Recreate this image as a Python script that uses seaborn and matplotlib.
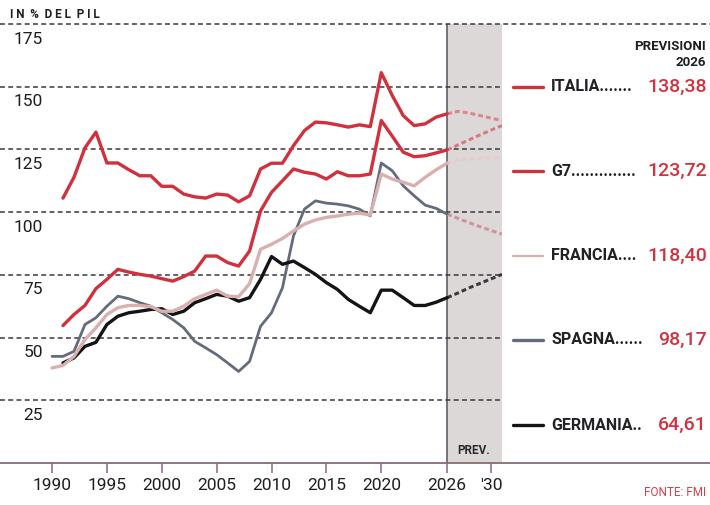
import matplotlib
matplotlib.use('Agg')
import matplotlib.pyplot as plt
import matplotlib.transforms as mtransforms
from matplotlib.lines import Line2D
import seaborn as sns
import pandas as pd
import numpy as np

# Debito pubblico in % del PIL (fonte FMI)
anni = list(range(1990, 2027))
italia = [np.nan, 105.6, 113.9, 125.6, 131.9, 119.6, 119.6, 116.9, 114.5, 114.5,
          110.3, 110.3, 107.2, 106.1, 105.6, 107.2, 106.8, 104.1, 106.5, 117.2,
          119.5, 119.5, 126.5, 132.5, 135.9, 135.6, 134.8, 133.9, 134.8, 134.1,
          155.6, 146.5, 138.5, 134.5, 135.2, 137.9, 139.2]
g7 = [np.nan, 54.8, 59.2, 62.8, 69.5, 73.2, 77.2, 76.1, 75.2, 74.5,
      73.5, 72.5, 74.3, 76.5, 82.5, 82.5, 79.9, 78.5, 84.5, 100.5,
      107.9, 112.5, 117.2, 115.9, 115.2, 113.2, 116.1, 114.5, 114.5, 115.2,
      136.5, 130.3, 123.9, 122.1, 122.5, 123.6, 124.8]
francia = [37.9, 38.9, 42.5, 49.2, 53.9, 59.2, 61.9, 62.8, 62.8, 62.3,
           60.5, 60.5, 62.5, 65.5, 67.2, 68.9, 66.5, 66.3, 71.5, 85.2,
           87.2, 89.5, 92.5, 95.2, 96.9, 97.9, 98.5, 99.2, 99.6, 98.8,
           115.2, 113.2, 111.9, 110.5, 113.9, 116.9, 119.5]
spagna = [42.5, 42.5, 44.5, 55.2, 57.9, 62.5, 66.5, 65.5, 63.9, 62.5,
          59.9, 57.2, 53.9, 48.5, 45.9, 43.2, 39.9, 36.5, 40.5, 54.5,
          59.9, 69.9, 90.5, 101.2, 104.5, 103.6, 103.2, 102.5, 101.2, 98.5,
          119.6, 116.5, 110.5, 106.5, 102.8, 101.5, 99.2]
germania = [np.nan, 39.9, 41.9, 46.5, 48.1, 55.2, 58.5, 59.9, 60.5, 61.2,
            61.5, 59.2, 60.5, 63.9, 65.5, 67.2, 66.5, 64.5, 65.9, 73.2,
            82.3, 79.2, 80.5, 77.9, 75.2, 71.9, 69.2, 65.2, 62.5, 59.9,
            68.9, 68.9, 65.9, 62.8, 62.8, 64.1, 65.9]

# Previsioni
anni_prev = [2026, 2027, 2028, 2029, 2030, 2031]
italia_prev = [139.2, 140.2, 139.5, 138.5, 137.5, 136.5]
g7_prev = [124.8, 126.8, 128.8, 130.8, 132.7, 134.5]
francia_prev = [119.5, 120.9, 121.2, 121.5, 121.7, 121.9]
spagna_prev = [99.2, 97.5, 95.8, 94.2, 92.7, 91.2]
germania_prev = [65.9, 67.8, 69.8, 71.6, 73.4, 75.2]

paesi = ['ITALIA', 'G7', 'FRANCIA', 'SPAGNA', 'GERMANIA']
etichette = ['ITALIA.......', 'G7..............', 'FRANCIA....', 'SPAGNA......', 'GERMANIA..']
valori_2026 = ['138,38', '123,72', '118,40', '98,17', '64,61']

x_ticks = [1990, 1995, 2000, 2005, 2010, 2015, 2020, 2026, 2030]
x_labels = ['1990', '1995', '2000', '2005', '2010', '2015', '2020', '2026', "'30"]
y_livelli = [25, 50, 75, 100, 125, 150, 175]

colori = {'ITALIA': '#d0313d', 'G7': '#d0313d', 'FRANCIA': '#d8b0ae',
          'SPAGNA': '#646c7c', 'GERMANIA': '#141414'}
colori_prev = {'ITALIA': '#d9878d', 'G7': '#d27c84', 'FRANCIA': '#e6cccb',
               'SPAGNA': '#cc949b', 'GERMANIA': '#3a3a3e'}
spessori = {'ITALIA': 2.4, 'G7': 2.4, 'FRANCIA': 2.4, 'SPAGNA': 2.0, 'GERMANIA': 2.4}

storico = pd.DataFrame({'anno': anni, 'ITALIA': italia, 'G7': g7, 'FRANCIA': francia,
                        'SPAGNA': spagna, 'GERMANIA': germania})
storico = storico.melt(id_vars='anno', var_name='paese', value_name='valore').dropna()
previsioni = pd.DataFrame({'anno': anni_prev, 'ITALIA': italia_prev, 'G7': g7_prev,
                           'FRANCIA': francia_prev, 'SPAGNA': spagna_prev,
                           'GERMANIA': germania_prev})
previsioni = previsioni.melt(id_vars='anno', var_name='paese', value_name='valore')

sns.set_theme(style='white')
plt.rcParams['font.family'] = ['Roboto', 'DejaVu Sans']

W, H = 710, 505
fig = plt.figure(figsize=(W / 100, H / 100), dpi=100)
ax = fig.add_axes([0, 42 / H, 502 / W, 439 / H])

# Fascia delle previsioni
ax.axvspan(2026, 2031, color='#ddd8d8', lw=0, zorder=0)
ax.axvline(2026, color='#6e6874', lw=1.3, zorder=1)

# Griglia tratteggiata
for v in y_livelli:
    xmax = W / 502 if v == 175 else 1
    ax.axhline(v, xmin=0, xmax=xmax, color='#38383e', lw=1.1,
               linestyle=(0, (3.2, 2.2)), clip_on=False, zorder=1)
ax.axhline(0, xmin=0, xmax=W / 502, color='#8a6a70', lw=1.3, clip_on=False, zorder=3)

ordine = ['SPAGNA', 'GERMANIA', 'FRANCIA', 'G7', 'ITALIA']
for p in ordine:
    sns.lineplot(data=previsioni[previsioni.paese == p], x='anno', y='valore',
                 color=colori_prev[p], lw=2.2, linestyle=(0, (1.6, 1.0)), ax=ax, zorder=2)
    sns.lineplot(data=storico[storico.paese == p], x='anno', y='valore',
                 color=colori[p], lw=spessori[p], ax=ax, zorder=2)

ax.set_xlim(1985.26, 2031)
ax.set_ylim(0, 175)
for s in ax.spines.values():
    s.set_visible(False)
ax.set_xlabel('')
ax.set_ylabel('')
ax.set_yticks([])
ax.set_xticks(x_ticks, x_labels)
ax.tick_params(axis='x', bottom=True, direction='out', length=7.5, width=1.1,
               color='#8a6a70', pad=3, labelsize=12.5, labelcolor='#1e1e22')

# Etichette asse y, sotto le linee di griglia
offset = mtransforms.ScaledTranslation(0, -0.15, fig.dpi_scale_trans)
for v in y_livelli:
    ax.text(43 / 502, v, str(v), transform=ax.get_yaxis_transform() + offset,
            ha='right', va='center', fontsize=12.5, color='#1e1e22')

def fx(px):
    return px / W

def fy(py):
    return 1 - py / H

fig.text(fx(10), fy(15), 'I N  %  D E L  P I L', fontsize=8.5, fontweight='bold',
         color='#1e1e22', va='center', ha='left')
fig.text(fx(706), fy(47), 'PREVISIONI', fontsize=9.5, fontweight='bold',
         color='#1e1e22', va='center', ha='right')
fig.text(fx(706), fy(62), '2026', fontsize=9.5, fontweight='bold',
         color='#1e1e22', va='center', ha='right')

# Legenda con valori 2026
legenda_y = [87, 171, 256, 340, 425]
for p, lab, val, yy in zip(paesi, etichette, valori_2026, legenda_y):
    lw_leg = 1.6 if p == 'FRANCIA' else 2.4
    fig.add_artist(Line2D([fx(513), fx(543)], [fy(yy), fy(yy)], color=colori[p], lw=lw_leg))
    fig.text(fx(551), fy(yy), lab, fontsize=11.5, fontweight='bold', color='#222226',
             va='center', ha='left')
    fig.text(fx(707), fy(yy), val, fontsize=14, fontweight='medium', color='#d2323f',
             va='center', ha='right')

fig.text(fx(474), fy(450), 'PREV.', fontsize=8.5, fontweight='bold', color='#2a2a2e',
         va='center', ha='center')
fig.text(fx(706), fy(492), 'FONTE: FMI', fontsize=8.5, color='#c8434d',
         va='center', ha='right')

fig.savefig('out.png', dpi=100)
